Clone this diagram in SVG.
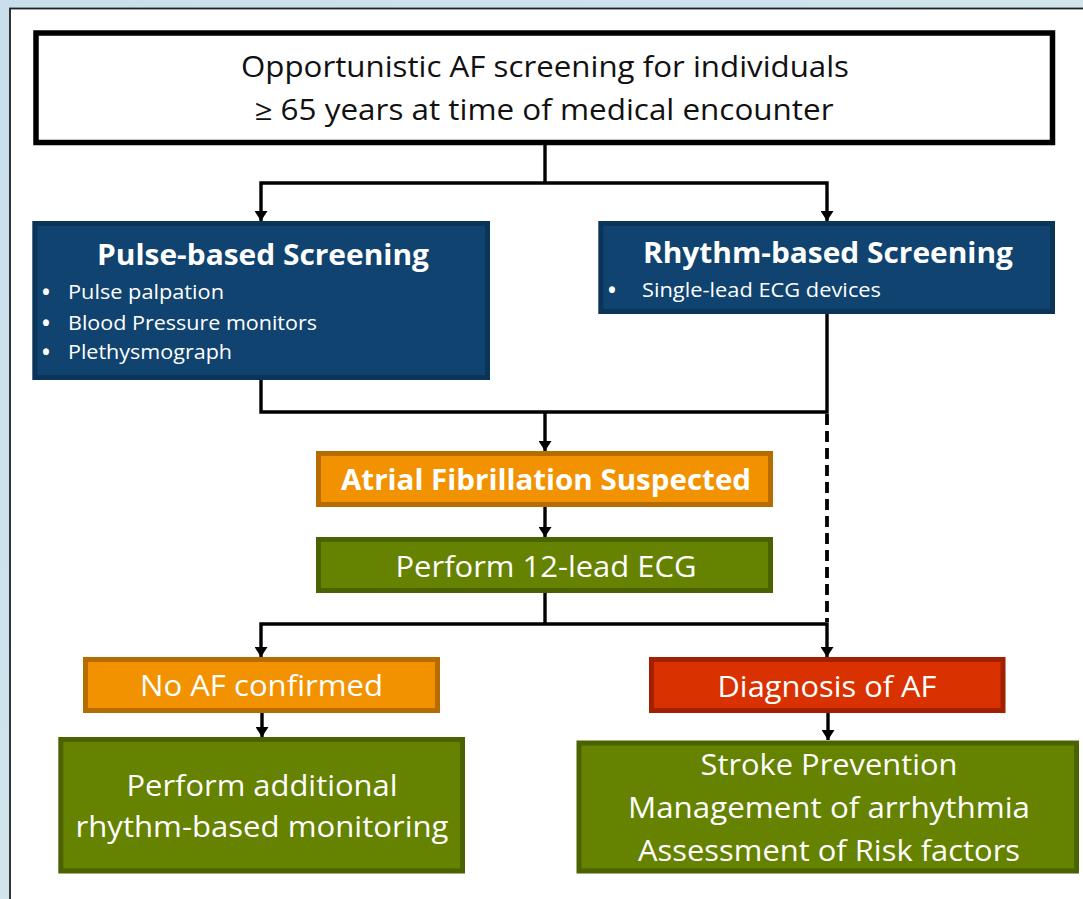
<svg xmlns="http://www.w3.org/2000/svg" width="1083" height="899" viewBox="0 0 1083 899">
  <style>
    .t { font-family: "Open Sans", "Liberation Sans", sans-serif; fill: #ffffff; text-anchor: middle; }
    .dark { fill: #111111; }
    .b { font-weight: bold; }
    .l { text-anchor: start; }
    .bul { font-size: 21px; font-weight: bold; }
    .navy { fill: #10436f; stroke: #0b3558; stroke-width: 5; }
    .orange { fill: #f39200; stroke: #b66c00; stroke-width: 5; }
    .green { fill: #658200; stroke: #4a6200; stroke-width: 5; }
    .red { fill: #d93100; stroke: #a22000; stroke-width: 5; }
    .c { fill: none; stroke: #000000; stroke-width: 3.4; }
    .arr { marker-end: url(#ah); }
    .dash { stroke-width: 3.8; stroke-dasharray: 11 6; }
  </style>
  <defs>
    <linearGradient id="bg" x1="0" y1="0" x2="1" y2="1">
      <stop offset="0" stop-color="#c9dfeb"/>
      <stop offset="1" stop-color="#d9eaf2"/>
    </linearGradient>
    <marker id="ah" markerUnits="userSpaceOnUse" markerWidth="13" markerHeight="13" refX="10" refY="6.5" orient="auto">
      <path d="M0,0 L10,6.5 L0,13 Z" fill="#000000"/>
    </marker>
  </defs>

  <rect x="0" y="0" width="1083" height="899" fill="url(#bg)"/>
  <rect x="10" y="8.5" width="1090" height="900" fill="#ffffff" stroke="#222222" stroke-width="1.8"/>

  <g id="connectors">
    <path class="c" d="M545,145 V183"/>
    <path class="c arr" d="M545,183 H261 V221"/>
    <path class="c arr" d="M545,183 H827 V221"/>
    <path class="c" d="M261,380 V412 H827 V314"/>
    <path class="c arr" d="M545,412 V451"/>
    <path class="c dash" d="M827,414 V622"/>
    <path class="c arr" d="M545,507 V537"/>
    <path class="c" d="M545,593 V624"/>
    <path class="c arr" d="M545,624 H261 V657"/>
    <path class="c arr" d="M545,624 H827 V657"/>
    <path class="c arr" d="M262,713 V737"/>
    <path class="c arr" d="M828,713 V740"/>
  </g>

  <g id="start">
    <rect x="36" y="33" width="1016.5" height="109.5" fill="#ffffff" stroke="#000000" stroke-width="5.5"/>
    <text class="t dark" x="545" y="77" font-size="28.5" textLength="608" lengthAdjust="spacingAndGlyphs">Opportunistic AF screening for individuals</text>
    <text class="t dark" x="544" y="120" font-size="28.5" textLength="579" lengthAdjust="spacingAndGlyphs">≥ 65 years at time of medical encounter</text>
  </g>

  <g id="pulse">
    <rect class="navy" x="34.8" y="223.5" width="452.7" height="154"/>
    <text class="t b" x="263" y="265" font-size="29" textLength="332" lengthAdjust="spacingAndGlyphs">Pulse-based Screening</text>
    <text class="t l bul" x="42" y="300">•</text>
    <text class="t l" x="68" y="299" font-size="20.5" textLength="156" lengthAdjust="spacingAndGlyphs">Pulse palpation</text>
    <text class="t l bul" x="42" y="331">•</text>
    <text class="t l" x="68" y="330" font-size="20.5" textLength="249" lengthAdjust="spacingAndGlyphs">Blood Pressure monitors</text>
    <text class="t l bul" x="42" y="360">•</text>
    <text class="t l" x="68" y="359" font-size="20.5" textLength="164" lengthAdjust="spacingAndGlyphs">Plethysmograph</text>
  </g>

  <g id="rhythm">
    <rect class="navy" x="600.8" y="223.5" width="451.7" height="88"/>
    <text class="t b" x="828" y="263" font-size="29" textLength="370" lengthAdjust="spacingAndGlyphs">Rhythm-based Screening</text>
    <text class="t l bul" x="608" y="298">•</text>
    <text class="t l" x="642" y="297" font-size="20.5" textLength="239" lengthAdjust="spacingAndGlyphs">Single-lead ECG devices</text>
  </g>

  <g id="suspected">
    <rect class="orange" x="318.5" y="453.5" width="452" height="51"/>
    <text class="t b" x="546" y="490" font-size="28.5" textLength="410" lengthAdjust="spacingAndGlyphs">Atrial Fibrillation Suspected</text>
  </g>

  <g id="ecg12">
    <rect class="green" x="318.5" y="539.5" width="452" height="51"/>
    <text class="t" x="546" y="577" font-size="28.5" textLength="301" lengthAdjust="spacingAndGlyphs">Perform 12-lead ECG</text>
  </g>

  <g id="noaf">
    <rect class="orange" x="85.5" y="659.5" width="352" height="51"/>
    <text class="t" x="261.5" y="696" font-size="29.5" textLength="243" lengthAdjust="spacingAndGlyphs">No AF confirmed</text>
  </g>

  <g id="diagnosis">
    <rect class="red" x="651.5" y="659.5" width="351.5" height="51"/>
    <text class="t" x="827" y="696.5" font-size="29.5" textLength="219" lengthAdjust="spacingAndGlyphs">Diagnosis of AF</text>
  </g>

  <g id="additional">
    <rect class="green" x="60.8" y="739.5" width="401.7" height="131.5"/>
    <text class="t" x="262" y="796" font-size="30" textLength="271" lengthAdjust="spacingAndGlyphs">Perform additional</text>
    <text class="t" x="262" y="837" font-size="30" textLength="373" lengthAdjust="spacingAndGlyphs">rhythm-based monitoring</text>
  </g>

  <g id="management">
    <rect class="green" x="579" y="743" width="497.5" height="128"/>
    <text class="t" x="829" y="775" font-size="30" textLength="257" lengthAdjust="spacingAndGlyphs">Stroke Prevention</text>
    <text class="t" x="829" y="818" font-size="30" textLength="402" lengthAdjust="spacingAndGlyphs">Management of arrhythmia</text>
    <text class="t" x="829" y="860.5" font-size="30" textLength="382" lengthAdjust="spacingAndGlyphs">Assessment of Risk factors</text>
  </g>
</svg>
